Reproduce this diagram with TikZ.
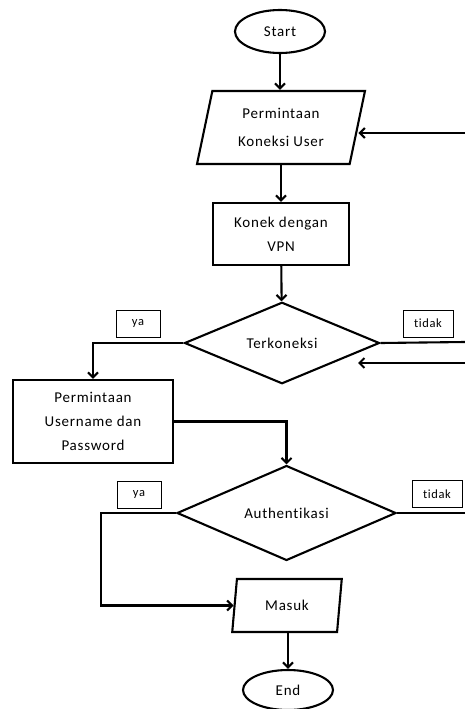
\documentclass[tikz,border=0pt]{standalone}
\usepackage{fontspec}
\setmainfont{Carlito}[LetterSpace=5,Ligatures=NoCommon]
\usetikzlibrary{shapes.geometric,arrows.meta}

\begin{document}
\begin{tikzpicture}[x=1pt,y=-1pt,line width=2.1pt,
    >={Straight Barb[length=5pt,width=10pt]},
    every node/.style={font=\fontsize{15}{24}\selectfont, align=center, inner sep=0pt},
    terminal/.style={draw, ellipse, minimum width=90pt, minimum height=43pt},
    io/.style={draw, trapezium, trapezium stretches=true},
    process/.style={draw, rectangle},
    decision/.style={draw, diamond},
    answer/.style={draw, line width=0.9pt, font=\fontsize{12.5}{14}\selectfont,
      minimum width=44pt, minimum height=27pt}]
%      \draw [help lines, opacity=0.5] (0,0) grid[step=20] (465,709);
      \useasboundingbox (0,0) rectangle (465,709);

      \node [terminal] (start) at (280,31.5) {Start};
      \node [io, trapezium left angle=76, trapezium right angle=104,
        minimum width=168pt, minimum height=73pt,
        font=\fontsize{15}{28}\selectfont] (perm1) at (281,127.5) {Permintaan\\Koneksi User};
      \node [process, minimum width=136pt, minimum height=62pt] (konek) at (281,234) {Konek dengan\\VPN};
      \node [decision, minimum width=195pt, minimum height=76pt] (term) at (282,343) {Terkoneksi};
      \node [answer] (ya1) at (138,323.5) {ya};
      \node [answer, minimum width=50pt] (tidak1) at (428,323.5) {tidak};
      \node [process, minimum width=160pt, minimum height=83pt] (perm2) at (93,421.5) {Permintaan\\Username dan\\Password};
      \node [decision, minimum width=219pt, minimum height=89pt] (auth) at (286.5,513) {Authentikasi};
      \node [answer] (ya2) at (139,494.5) {ya};
      \node [answer, minimum width=50pt] (tidak2) at (437,494) {tidak};
      \node [io, trapezium left angle=79, trapezium right angle=101,
        minimum width=110pt, minimum height=53pt] (masuk) at (287,605.5) {Masuk};
      \node [terminal, minimum height=40pt] (stop) at (288,690) {End};

      % loose ends at the right margin
      \coordinate (rin) at (465,133);
      \coordinate (noconn) at (465,342);
      \coordinate (back) at (465,363);
      \coordinate (backend) at (358,363);
      \coordinate (noauth) at (465,513);
      \coordinate (yaturn) at (101,513);

      \draw [->] (start.south) -- (start.south |- perm1.north);
      \draw [->] (konek.north |- perm1.south) -- (konek.north);
      \draw [->] (konek) -- (term);
      \draw [->] (rin) -- (rin -| perm1.east);
      \draw [->] (term.west) -| (perm2.north);
      \draw (term.east) -- (noconn);
      \draw [->] (back) -- (backend);
      \draw [->] (perm2.east) -| (auth.north);
      \draw [->] (auth.west) -- (yaturn) |- (masuk.west);
      \draw (auth.east) -- (noauth);
      \draw [->] (stop.north |- masuk.south) -- (stop.north);
\end{tikzpicture}
\end{document}
